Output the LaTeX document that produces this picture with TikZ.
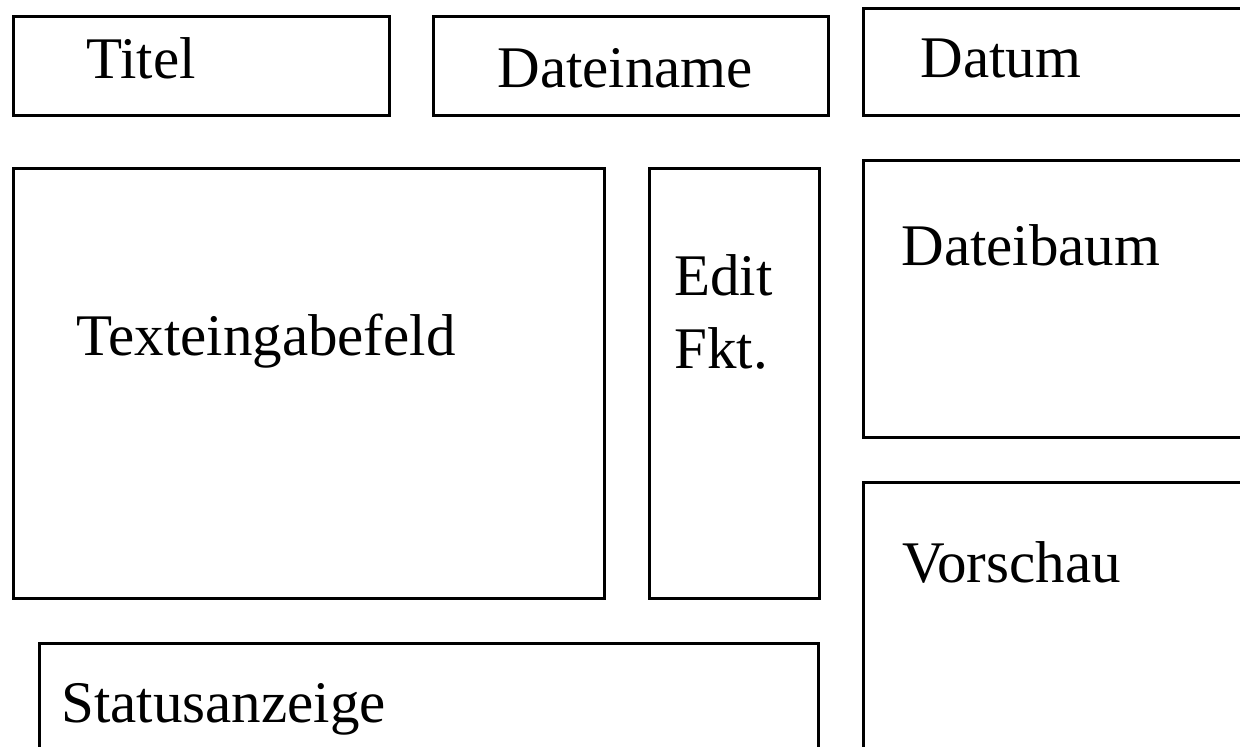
\documentclass[tikz,border=0pt]{standalone}
\usepackage{fontspec}
\setmainfont{Liberation Serif}
\begin{document}
\begin{tikzpicture}[x=0.5pt,y=-0.5pt,
  box/.style={draw=black,line width=1.5pt},
  lbl/.style={anchor=base west,inner sep=0pt,font=\fontsize{29.5}{36.5}\selectfont,align=left}]
\useasboundingbox (0,0) rectangle (1240,746);
\clip (0,0) rectangle (1240,746);
\draw[box] (13,16) rectangle (389,115);
\draw[box] (433,16) rectangle (828,115);
\draw[box] (863,8) rectangle (1250,115);
\draw[box] (13,168) rectangle (604,598);
\draw[box] (649,168) rectangle (819,598);
\draw[box] (863,160) rectangle (1250,437);
\draw[box] (863,482) rectangle (1250,760);
\draw[box] (39,643) rectangle (818,760);
\node[lbl] (titel) at (86,78) {Titel};
\node[lbl] (dateiname) at (497,87) {Dateiname};
\node[lbl] (datum) at (920,77) {Datum};
\node[lbl] (texte) at (76,355) {Texteingabefeld};
\node[lbl] (edit) at (674,295) {Edit};
\node[lbl] (fkt) at (674,368) {Fkt.};
\node[lbl] (baum) at (901,265) {Dateibaum};
\node[lbl] (vorschau) at (902,582) {Vorschau};
\node[lbl] (status) at (61,722) {Statusanzeige};
\end{tikzpicture}
\end{document}
